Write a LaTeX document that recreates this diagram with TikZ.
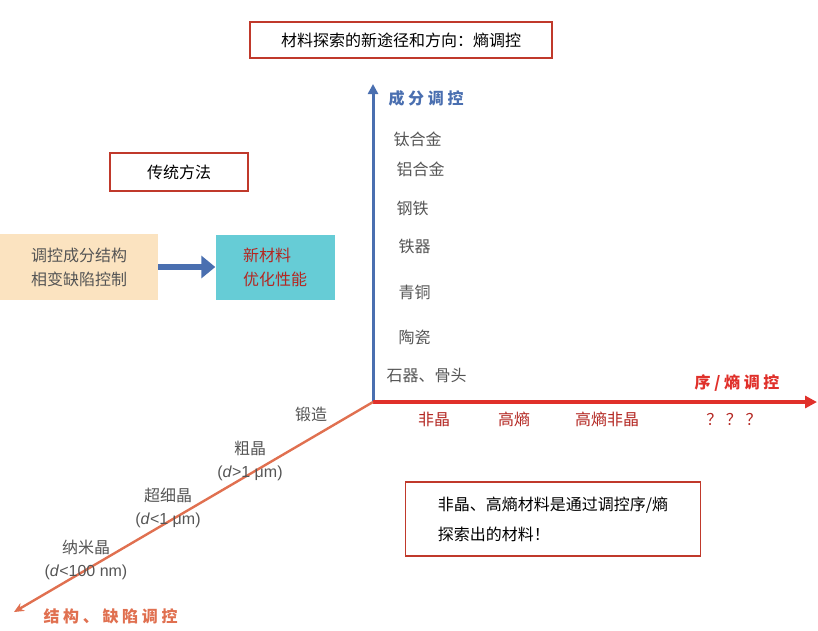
\documentclass[tikz,border=0pt]{standalone}
\usepackage{fontspec}
\setmainfont{Noto Sans CJK SC}
\newfontfamily\latinfont{Liberation Sans}
\newcommand{\grainSize}[1]{{\latinfont(\textit{d}#1)}}
\usetikzlibrary{arrows.meta}
\definecolor{boxRed}{HTML}{C0392B}
\definecolor{axisBlue}{HTML}{4A6FB0}
\definecolor{axisRed}{HTML}{E0302A}
\definecolor{axisOrange}{HTML}{E07050}
\definecolor{textGray}{HTML}{555555}
\definecolor{beige}{HTML}{FBE3C0}
\definecolor{cyanBox}{HTML}{66CCD6}
\begin{document}
\begin{tikzpicture}[x=1pt,y=-1pt,%%
  frameStyle/.style={draw=boxRed,line width=1.5pt,inner sep=0pt},%%
  itemStyle/.style={text=textGray,font=\fontsize{16}{18}\selectfont,anchor=west},%%
  entStyle/.style={text=axisRed!80!black,font=\fontsize{16}{18}\selectfont},%%
  grainStyle/.style={text=textGray,font=\fontsize{16}{23}\selectfont,align=center}%%
]
%%
\useasboundingbox (0,0) rectangle (818,630);
%%
\coordinate (origin) at (373,402);
\coordinate (topEnd) at (373,84);
\coordinate (rightEnd) at (817,402);
\coordinate (leftEnd) at (14,612);
%% Boxes.
\node[frameStyle,minimum width=302,minimum height=36] (title) at (401,40)
  {\fontsize{16}{18}\selectfont 材料探索的新途径和方向：熵调控};
\node[frameStyle,minimum width=138,minimum height=38] (classic) at (179,172)
  {\fontsize{16}{18}\selectfont 传统方法};
\node[fill=beige,minimum width=158,minimum height=66,align=center,text=textGray,
  font=\fontsize{16}{24}\selectfont] (method) at (79,267) {调控成分结构\\相变缺陷控制};
\node[fill=cyanBox,minimum width=119,minimum height=65,align=left,text=axisRed!80!black,
  font=\fontsize{16}{24}\selectfont] (newMat) at (275,267) {新材料\\优化性能};
\node[frameStyle,minimum width=295,minimum height=74,align=left,
  font=\fontsize{16}{30}\selectfont] (note) at (553,519) {非晶、高熵材料是通过调控序/熵\\探索出的材料！};
\draw[-{Triangle[length=14pt,width=22pt]},line width=6pt,axisBlue] (method) -- (newMat);
%% Axes.
\draw[-{Triangle[length=10pt,width=10pt]},line width=3pt,axisBlue] (origin) -- (topEnd);
\draw[-{Triangle[length=12pt,width=12pt]},line width=3.5pt,axisRed] (origin) -- (rightEnd);
\draw[-{Stealth[length=10pt,width=9pt]},line width=2.4pt,axisOrange] (origin) -- (leftEnd);
%% Axis labels.
\node[text=axisBlue,font=\bfseries\fontsize{16}{18}\selectfont,anchor=west] (compLabel) at (385,98) {成 分 调 控};
\node[text=axisRed,font=\bfseries\fontsize{16}{18}\selectfont] (orderLabel) at (737,383) {序 / 熵 调 控};
\node[text=axisOrange,font=\bfseries\fontsize{16}{18}\selectfont,anchor=west] (structLabel) at (40,616) {结 构 、 缺 陷 调 控};
%% Composition items.
\node[itemStyle] (ti) at (390,139) {钛合金};
\node[itemStyle] (al) at (393,169) {铝合金};
\node[itemStyle] (steel) at (393,208) {钢铁};
\node[itemStyle] (iron) at (395,246) {铁器};
\node[itemStyle] (bronze) at (395,292) {青铜};
\node[itemStyle] (ceramic) at (395,337) {陶瓷};
\node[itemStyle] (stone) at (383,375) {石器、骨头};
%% Entropy items.
\node[entStyle] (amorph) at (434,419) {非晶};
\node[entStyle] (hea) at (514,419) {高熵};
\node[entStyle] (heaAm) at (607,419) {高熵非晶};
\node[entStyle] (unknown) at (734,419) {？ ？ ？};
%% Grain items.
\node[grainStyle] (forge) at (311,414) {锻造};
\node[grainStyle] (coarse) at (250,461) {粗晶\\\grainSize{>1 μm}};
\node[grainStyle] (ultra) at (168,508) {超细晶\\\grainSize{<1 μm}};
\node[grainStyle] (nano) at (86,560) {纳米晶\\\grainSize{<100 nm}};
\end{tikzpicture}
\end{document}
